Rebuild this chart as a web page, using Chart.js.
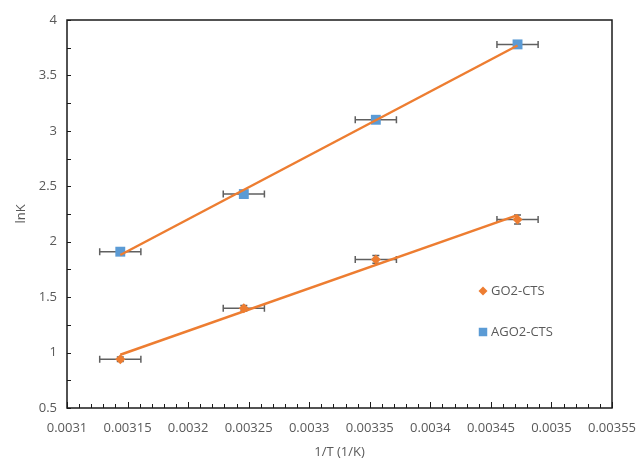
<!DOCTYPE html>
<html><head><meta charset="utf-8">
<script src="https://cdn.jsdelivr.net/npm/chart.js@4.4.0/dist/chart.umd.min.js"></script>
<style>html,body{margin:0;padding:0;background:#fff}</style>
</head><body>
<canvas id="c" width="638" height="461"></canvas>
<script>
// ---- data ----
const xValues    = [0.003144, 0.003246, 0.003355, 0.003472];   // 1/T (1/K)
const go2Values  = [0.94, 1.40, 1.84, 2.20];                     // lnK, GO2-CTS
const ago2Values = [1.91, 2.43, 3.10, 3.78];                     // lnK, AGO2-CTS
const xErr       = [0.000017, 0.000017, 0.000017, 0.000017];
const go2YErr    = [0.02, 0.025, 0.035, 0.04];
const ago2YErr   = [0.015, 0.015, 0.015, 0.015];
const trendX     = [0.003144, 0.003472];
const go2Trend   = [0.98, 2.24];
const ago2Trend  = [1.88, 3.77];
const xTicks      = [0.0031, 0.00315, 0.0032, 0.00325, 0.0033, 0.00335, 0.0034, 0.00345, 0.0035, 0.00355];
const xTickLabels = ['0.0031','0.00315','0.0032','0.00325','0.0033','0.00335','0.0034','0.00345','0.0035','0.00355'];
const yTicks      = [0.5, 1, 1.5, 2, 2.5, 3, 3.5, 4];
const yTickLabels = ['0.5','1','1.5','2','2.5','3','3.5','4'];
const seriesNames = ['GO2-CTS', 'AGO2-CTS'];

const ORANGE = '#ED7D31', BLUE = '#5B9BD5', TEXT = '#595959', FONT = "'Open Sans', sans-serif";

const pts = (xs, ys) => xs.map((x, i) => ({x: x, y: ys[i]}));

const errorBars = {
  id: 'errorBars',
  beforeDatasetsDraw(chart) {
    const ctx = chart.ctx, xs = chart.scales.x, ys = chart.scales.y;
    ctx.save();
    ctx.strokeStyle = '#606060';
    ctx.lineWidth = 1.5;
    chart.data.datasets.forEach(ds => {
      if (!ds.xErr) return;
      ds.data.forEach((p, i) => {
        const px = xs.getPixelForValue(p.x), py = ys.getPixelForValue(p.y);
        const xl = xs.getPixelForValue(p.x - ds.xErr[i]), xr = xs.getPixelForValue(p.x + ds.xErr[i]);
        const yt = ys.getPixelForValue(p.y + ds.yErr[i]), yb = ys.getPixelForValue(p.y - ds.yErr[i]);
        const c = 3.5;
        ctx.beginPath();
        ctx.moveTo(xl, py); ctx.lineTo(xr, py);
        ctx.moveTo(xl, py - c); ctx.lineTo(xl, py + c);
        ctx.moveTo(xr, py - c); ctx.lineTo(xr, py + c);
        ctx.moveTo(px, yt); ctx.lineTo(px, yb);
        ctx.moveTo(px - c, yt); ctx.lineTo(px + c, yt);
        ctx.moveTo(px - c, yb); ctx.lineTo(px + c, yb);
        ctx.stroke();
      });
    });
    ctx.restore();
  }
};

const frameAndTicks = {
  id: 'frameAndTicks',
  afterDraw(chart) {
    const ctx = chart.ctx, a = chart.chartArea, xs = chart.scales.x, ys = chart.scales.y;
    ctx.save();
    ctx.strokeStyle = '#1a1a1a';
    ctx.lineWidth = 1.5;
    ctx.strokeRect(a.left, a.top, a.right - a.left, a.bottom - a.top);
    ctx.lineWidth = 1;
    ctx.beginPath();
    for (let i = 0; i < xTicks.length; i++) {
      const px = Math.round(xs.getPixelForValue(xTicks[i])) + 0.5;
      ctx.moveTo(px, a.bottom); ctx.lineTo(px, a.bottom - 6);
      if (i < xTicks.length - 1) {
        const step = (xTicks[i + 1] - xTicks[i]) / 5;
        for (let k = 1; k < 5; k++) {
          const mx = Math.round(xs.getPixelForValue(xTicks[i] + k * step)) + 0.5;
          ctx.moveTo(mx, a.bottom); ctx.lineTo(mx, a.bottom - 4);
        }
      }
    }
    for (let i = 0; i < yTicks.length; i++) {
      const py = Math.round(ys.getPixelForValue(yTicks[i])) + 0.5;
      ctx.moveTo(a.left, py); ctx.lineTo(a.left + 4, py);
      if (i < yTicks.length - 1) {
        const my = Math.round(ys.getPixelForValue((yTicks[i] + yTicks[i + 1]) / 2)) + 0.5;
        ctx.moveTo(a.left, my); ctx.lineTo(a.left + 4, my);
      }
    }
    ctx.stroke();

    const items = [
      {text: seriesNames[0], style: 'rectRot', r: 4.5, color: ORANGE, y: 291},
      {text: seriesNames[1], style: 'rect', r: 6, color: BLUE, y: 332}
    ];
    ctx.font = '13px ' + FONT;
    ctx.textAlign = 'left';
    ctx.textBaseline = 'middle';
    items.forEach(it => {
      ctx.fillStyle = it.color;
      ctx.strokeStyle = it.color;
      Chart.helpers.drawPoint(ctx, {pointStyle: it.style, radius: it.r, borderWidth: 0, rotation: 0}, 483, it.y);
      ctx.fillStyle = TEXT;
      ctx.fillText(it.text, 491, it.y);
    });
    ctx.restore();
  }
};

new Chart(document.getElementById('c'), {
  type: 'scatter',
  data: {
    datasets: [
      {label: seriesNames[0] + ' fit', type: 'line', data: pts(trendX, go2Trend), borderColor: ORANGE, borderWidth: 2.5,
       pointRadius: 0, showLine: true, fill: false, order: 0},
      {label: seriesNames[1] + ' fit', type: 'line', data: pts(trendX, ago2Trend), borderColor: ORANGE, borderWidth: 2.5,
       pointRadius: 0, showLine: true, fill: false, order: 0},
      {label: seriesNames[0], data: pts(xValues, go2Values), pointStyle: 'rectRot', pointRadius: 5,
       backgroundColor: ORANGE, borderColor: ORANGE, borderWidth: 0, order: 1, xErr: xErr, yErr: go2YErr},
      {label: seriesNames[1], data: pts(xValues, ago2Values), pointStyle: 'rect', pointRadius: 7,
       backgroundColor: BLUE, borderColor: BLUE, borderWidth: 0, order: 1, xErr: xErr, yErr: ago2YErr}
    ]
  },
  options: {
    responsive: false,
    animation: false,
    layout: {padding: {top: 20, right: 26, left: 0, bottom: 0}},
    plugins: {legend: {display: false}, tooltip: {enabled: false}},
    scales: {
      x: {
        type: 'linear', position: 'bottom', min: 0.0031, max: 0.00355,
        afterBuildTicks: s => { s.ticks = xTicks.map(v => ({value: v})); },
        afterFit: s => { s.height = 53; s.paddingLeft = 0; s.paddingRight = 0; },
        grid: {display: false, drawTicks: false},
        border: {display: false},
        ticks: {callback: (v, i) => xTickLabels[i], font: {family: FONT, size: 13}, color: TEXT,
                padding: 12, maxRotation: 0, autoSkip: false},
        title: {display: true, text: '1/T (1/K)', font: {family: FONT, size: 13}, color: TEXT,
                padding: {top: 0, bottom: 1}}
      },
      y: {
        type: 'linear', min: 0.5, max: 4,
        afterBuildTicks: s => { s.ticks = yTicks.map(v => ({value: v})); },
        afterFit: s => { s.width = 67; s.paddingTop = 0; s.paddingBottom = 0; },
        grid: {display: false, drawTicks: false},
        border: {display: false},
        ticks: {callback: (v, i) => yTickLabels[i], font: {family: FONT, size: 13}, color: TEXT, padding: 10},
        title: {display: true, text: 'lnK', font: {family: FONT, size: 13}, color: TEXT,
                padding: {top: 13, bottom: 0}}
      }
    }
  },
  plugins: [errorBars, frameAndTicks]
});
</script>
</body></html>
